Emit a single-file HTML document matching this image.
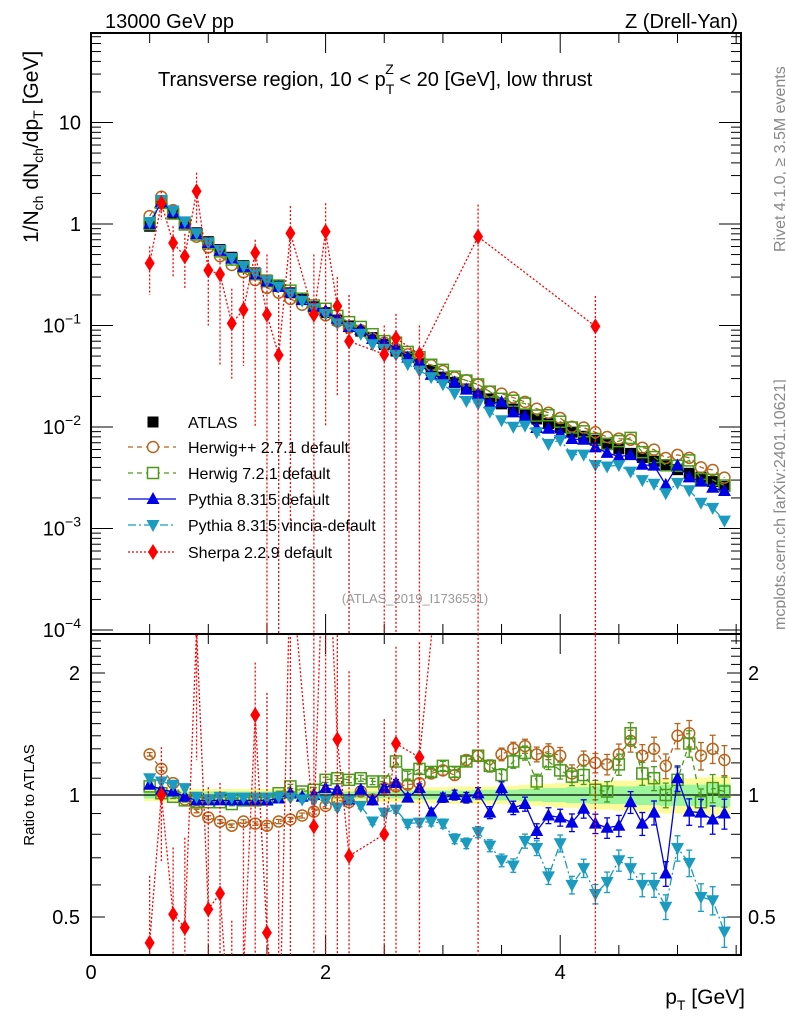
<!DOCTYPE html>
<html><head><meta charset="utf-8">
<style>
html,body{margin:0;padding:0;background:#fff;overflow:hidden;width:786px;height:1024px;}
svg{display:block;font-family:"Liberation Sans",Arial,sans-serif;}
</style></head>
<body>
<svg id="chart" width="786" height="1024" viewBox="0 0 786 1024" xmlns="http://www.w3.org/2000/svg">
<defs>
<clipPath id="clipMain"><rect x="91" y="33" width="650" height="601"/></clipPath>
<clipPath id="clipRatio"><rect x="91" y="635" width="650" height="320"/></clipPath>
</defs>
<g id="bands" clip-path="url(#clipRatio)"></g>
<g id="grid"></g>
<g id="mainMarks" clip-path="url(#clipMain)"></g>
<g id="ratioMarks" clip-path="url(#clipRatio)"></g>
<g id="labels">
<text x="105" y="28" font-size="20">13000 GeV pp</text>
<text x="738" y="28" font-size="20" text-anchor="end">Z (Drell-Yan)</text>
<text x="158" y="86" font-size="20">Transverse region, 10 &lt; p<tspan font-size="14" dy="8">T</tspan><tspan font-size="14" dx="-9" dy="-20">Z</tspan><tspan dy="12"> &lt; 20 [GeV], low thrust</tspan></text>
<text transform="translate(38,243) rotate(-90)" font-size="21">1/N<tspan font-size="14" dy="5">ch</tspan><tspan dy="-5"> dN</tspan><tspan font-size="14" dy="5">ch</tspan><tspan dy="-5">/dp</tspan><tspan font-size="14" dy="5">T</tspan><tspan dy="-5"> [GeV]</tspan></text>
<text transform="translate(34,795) rotate(-90)" font-size="15" text-anchor="middle">Ratio to ATLAS</text>
<text x="745" y="1004" font-size="21" text-anchor="end">p<tspan font-size="14" dy="6">T</tspan><tspan dy="-6"> [GeV]</tspan></text>
<text transform="translate(785,252) rotate(-90)" font-size="16" fill="#888">Rivet 4.1.0, ≥ 3.5M events</text>
<text transform="translate(785,630) rotate(-90)" font-size="16" fill="#888">mcplots.cern.ch [arXiv:2401.10621]</text>
<text x="415" y="603" font-size="13" fill="#999" text-anchor="middle">(ATLAS_2019_I1736531)</text>
</g>
<g id="legend"></g>
</svg>
<script>
// ---- data ----
const bins = [0.5,0.6,0.7,0.8,0.9,1.0,1.1,1.2,1.3,1.4,1.5,1.6,1.7,1.8,1.9,2.0,2.1,2.2,2.3,2.4,2.5,2.6,2.7,2.8,2.9,3.0,3.1,3.2,3.3,3.4,3.5,3.6,3.7,3.8,3.9,4.0,4.1,4.2,4.3,4.4,4.5,4.6,4.7,4.8,4.9,5.0,5.1,5.2,5.3,5.4];
const atlasVals = [0.95,1.6,1.28,1.02,0.82,0.67,0.56,0.47,0.39,0.33,0.28,0.245,0.21,0.18,0.153,0.134,0.113,0.099,0.088,0.076,0.065,0.056,0.049,0.042,0.036,0.031,0.0275,0.0237,0.021,0.0189,0.0169,0.015,0.0134,0.012,0.0108,0.0098,0.0089,0.0081,0.0074,0.0067,0.0061,0.0055,0.005,0.0046,0.0042,0.0038,0.0035,0.0032,0.0029,0.0026];
const herwigPPRatio = [1.26,1.16,1.07,0.975,0.913,0.88,0.86,0.84,0.86,0.85,0.84,0.86,0.87,0.89,0.91,0.94,0.97,0.96,1.02,0.975,1.04,1.05,1.06,1.07,1.13,1.15,1.12,1.22,1.25,1.18,1.26,1.30,1.32,1.26,1.28,1.25,1.13,1.22,1.2,1.19,1.26,1.36,1.25,1.3,1.18,1.40,1.42,1.25,1.3,1.22];
const herwig7Ratio = [1.05,1.01,0.99,0.97,0.96,0.96,0.96,0.95,0.97,0.97,0.975,1.01,1.05,1.02,1.03,1.09,1.1,1.09,1.1,1.08,1.08,1.21,1.12,1.16,1.14,1.18,1.14,1.21,1.25,1.18,1.12,1.21,1.27,1.08,1.21,1.15,1.11,1.12,1.03,1.02,1.19,1.42,1.13,1.1,1.0,1.09,1.34,0.96,1.04,1.02];
const pythiaRatio = [1.06,1.03,1.02,0.99,0.97,0.97,0.97,0.97,0.97,0.97,0.97,0.98,1.01,0.99,1.0,1.04,1.03,0.975,1.03,0.97,1.04,1.07,0.985,1.04,0.905,0.985,1.0,0.985,1.01,0.905,1.04,0.93,0.95,0.815,0.89,0.88,0.855,0.925,0.85,0.83,0.84,0.96,0.85,0.905,0.64,1.1,0.91,0.905,0.87,0.9];
const vinciaRatio = [1.1,1.08,1.06,1.04,0.99,0.975,0.99,0.985,0.985,0.985,0.985,0.99,0.985,0.975,0.97,0.97,0.93,0.97,0.94,0.86,0.905,0.92,0.85,0.855,0.86,0.85,0.78,0.76,0.81,0.75,0.69,0.67,0.77,0.74,0.63,0.76,0.6,0.66,0.57,0.61,0.69,0.66,0.6,0.6,0.53,0.74,0.68,0.56,0.55,0.46];
const mcErrRel = [0.01,0.01,0.01,0.01,0.01,0.01,0.01,0.01,0.01,0.01,0.012,0.012,0.012,0.014,0.014,0.015,0.015,0.016,0.017,0.018,0.02,0.02,0.022,0.024,0.025,0.026,0.028,0.03,0.032,0.034,0.036,0.038,0.04,0.042,0.045,0.048,0.05,0.052,0.055,0.058,0.06,0.062,0.065,0.068,0.07,0.072,0.075,0.078,0.08,0.085];
const bandStat = [0.02,0.02,0.02,0.02,0.02,0.02,0.02,0.02,0.02,0.02,0.02,0.02,0.02,0.02,0.02,0.02,0.02,0.02,0.02,0.02,0.02,0.02,0.025,0.025,0.025,0.025,0.025,0.025,0.03,0.03,0.03,0.03,0.035,0.035,0.04,0.04,0.045,0.045,0.05,0.05,0.05,0.05,0.055,0.055,0.06,0.06,0.06,0.06,0.065,0.065];
const bandTot = [0.035,0.035,0.035,0.035,0.035,0.035,0.035,0.035,0.035,0.035,0.035,0.035,0.035,0.035,0.035,0.035,0.035,0.035,0.04,0.04,0.04,0.04,0.045,0.045,0.045,0.045,0.05,0.05,0.05,0.05,0.05,0.055,0.06,0.06,0.065,0.07,0.07,0.075,0.08,0.08,0.085,0.085,0.09,0.09,0.1,0.1,0.1,0.105,0.11,0.11];
const sherpaBins = [0.5,0.6,0.7,0.8,0.9,1.0,1.1,1.2,1.3,1.4,1.5,1.6,1.7,1.9,2.0,2.1,2.2,2.5,2.6,2.8,3.3,4.3];
const sherpaVals = [0.41,1.6,0.65,0.48,2.1,0.35,0.32,0.105,0.143,0.52,0.128,0.051,0.81,0.128,0.84,0.155,0.07,0.052,0.075,0.052,0.75,0.098];
const sherpaHi = [0.6,2.1,0.95,0.8,3.2,0.7,0.6,0.23,0.33,0.7,0.5,0.2,1.5,0.5,1.6,0.3,0.2,0.1,0.13,0.1,1.55,0.195];
const sherpaLo = [0.2,1.1,0.3,0.23,1.0,0.1,0.04,0.03,0.04,0.01,0,0,0.001,0,0.01,0.02,0,0,0,0,0,0];

// ---- scales ----
const X = v => 91 + 117.3*v;
const YM = v => v<=0 ? 700 : 224 - 101.5*Math.log10(v);
const YR = r => r<=0 ? 1000 : 795 - 122*Math.log2(r);
const NS='http://www.w3.org/2000/svg';
function mk(parent, tag, attrs){const e=document.createElementNS(NS,tag);for(const k in attrs)e.setAttribute(k,attrs[k]);parent.appendChild(e);return e;}
const G=document.getElementById('grid'), MM=document.getElementById('mainMarks'), RM=document.getElementById('ratioMarks'), BD=document.getElementById('bands'), LG=document.getElementById('legend');

// ---- bands ----
function band(arr, color, name){
  let top='', bot='';
  bins.forEach((b,i)=>{const x0=X(b-0.05),x1=X(b+0.05);top+=`L${x0},${YR(1+arr[i])} L${x1},${YR(1+arr[i])} `;});
  for(let i=bins.length-1;i>=0;i--){const x0=X(bins[i]-0.05),x1=X(bins[i]+0.05);bot+=`L${x1},${YR(1-arr[i])} L${x0},${YR(1-arr[i])} `;}
  const p=mk(BD,'path',{d:'M'+top.slice(1)+bot+'Z',fill:color});
  
  
}
band(bandTot,'#fbfb9b','total-uncertainty-band');
band(bandStat,'#9cf59c','stat-uncertainty-band');

// ---- frames & ticks ----
function line(x1,y1,x2,y2,w){return mk(G,'line',{x1,y1,x2,y2,stroke:'#000','stroke-width':w||1});}
const fm=mk(G,'rect',{x:91,y:33,width:650,height:601,fill:'none',stroke:'#000','stroke-width':2});


const fr=mk(G,'rect',{x:91,y:634,width:650,height:321,fill:'none',stroke:'#000','stroke-width':2});


for(let v=0; v<=5.5; v+=0.5){
  const major = Math.abs(v%2)<1e-6;
  const L = major?20:10;
  const x=X(v);
  line(x,33,x,33+L); line(x,634,x,634-L); line(x,634,x,634+L); line(x,955,x,955-L);
}
const xTickLabels=['0','2','4'];
[0,2,4].forEach((v,i)=>{const t=mk(G,'text',{x:X(v),y:979,'font-size':20,'text-anchor':'middle'});t.textContent=xTickLabels[i];

});
for(let d=-4; d<=1; d++){
  for(let m=1;m<=9;m++){
    const v=m*Math.pow(10,d); const y=YM(v);
    if(y<33||y>634) continue;
    const L=m===1?22:10;
    line(91,y,91+L,y); line(741,y,741-L,y);
  }
}
const yTickExps=[1,0,-1,-2,-3,-4];
yTickExps.forEach(e=>{
  const y=YM(Math.pow(10,e))+7;
  const t=mk(G,'text',{x:81,y:y,'font-size':20,'text-anchor':'end'});
  
  
  if(e===1) t.textContent='10';
  else if(e===0) t.textContent='1';
  else { t.textContent='10'; const s=mk(t,'tspan',{'font-size':14,dy:-9}); s.textContent='−'+(-e); }
});
for(let r=0.5; r<=2.45; r+=0.1){
  const y=YR(r); const rr=Math.round(r*10)/10;
  const L=(rr===0.5||rr===1||rr===2)?14:10;
  line(91,y,91+L,y); line(741,y,741-L,y);
}
const ratioTickLabels=['0.5','1','2'];
[0.5,1,2].forEach((r,i)=>{
  const t=mk(G,'text',{x:80,y:YR(r)+7,'font-size':20,'text-anchor':'end'});t.textContent=ratioTickLabels[i];
  
  
  const t2=mk(G,'text',{x:748,y:YR(r)+7,'font-size':20});t2.textContent=ratioTickLabels[i];
  
  
});
const one=mk(RM,'line',{x1:91,y1:YR(1),x2:741,y2:YR(1),stroke:'#000','stroke-width':1.2});



// ---- markers ----
function marker(parent,type,x,y,color){
  let e;
  if(type==='sq') e=mk(parent,'rect',{x:x-5.5,y:y-5.5,width:11,height:11,fill:'#000'});
  else if(type==='circ') e=mk(parent,'circle',{cx:x,cy:y,r:5.5,fill:'none',stroke:color,'stroke-width':1.5});
  else if(type==='osq') e=mk(parent,'rect',{x:x-5.5,y:y-5.5,width:11,height:11,fill:'none',stroke:color,'stroke-width':1.5});
  else if(type==='up') e=mk(parent,'polygon',{points:`${x},${y-7} ${x-6.5},${y+5} ${x+6.5},${y+5}`,fill:color});
  else if(type==='down') e=mk(parent,'polygon',{points:`${x},${y+7} ${x-6.5},${y-5} ${x+6.5},${y-5}`,fill:color});
  else if(type==='dia') e=mk(parent,'polygon',{points:`${x},${y-8} ${x-5},${y} ${x},${y+8} ${x+5},${y}`,fill:color});
  return e;
}
const series=[
  {name:'herwigpp',ratio:herwigPPRatio,color:'#b5651d',type:'circ',dash:'5,4',label:'Herwig++ 2.7.1 default'},
  {name:'herwig7',ratio:herwig7Ratio,color:'#4a9a1a',type:'osq',dash:'5,4',label:'Herwig 7.2.1 default'},
  {name:'pythia',ratio:pythiaRatio,color:'#0000e6',type:'up',dash:'',label:'Pythia 8.315 default'},
  {name:'vincia',ratio:vinciaRatio,color:'#1a9bbf',type:'down',dash:'8,3,2,3',label:'Pythia 8.315 vincia-default'}
];
bins.forEach((b,i)=>{
  const m=marker(MM,'sq',X(b),YM(atlasVals[i]));
  
  
});
series.forEach(s=>{
  const gm=mk(MM,'g',{});  
  const gr=mk(RM,'g',{});  
  const mainPts=bins.map((b,i)=>`${X(b)},${YM(atlasVals[i]*s.ratio[i])}`).join(' ');
  const ratioPts=bins.map((b,i)=>`${X(b)},${YR(s.ratio[i])}`).join(' ');
  const pl1=mk(gm,'polyline',{points:mainPts,fill:'none',stroke:s.color,'stroke-width':1.3,'stroke-dasharray':s.dash});
  
  
  const pl2=mk(gr,'polyline',{points:ratioPts,fill:'none',stroke:s.color,'stroke-width':1.3,'stroke-dasharray':s.dash});
  
  
  bins.forEach((b,i)=>{
    const r=s.ratio[i], e=mcErrRel[i], x=X(b);
    const y1=YR(r*(1+e)), y2=YR(r*(1-e));
    mk(gr,'line',{x1:x,y1:y1,x2:x,y2:y2,stroke:s.color,'stroke-width':1.3});
    mk(gr,'line',{x1:x-3,y1:y1,x2:x+3,y2:y1,stroke:s.color,'stroke-width':1.3});
    mk(gr,'line',{x1:x-3,y1:y2,x2:x+3,y2:y2,stroke:s.color,'stroke-width':1.3});
    const m1=marker(gm,s.type,x,YM(atlasVals[i]*r),s.color);
    
    
    const m2=marker(gr,s.type,x,YR(r),s.color);
    
    
  });
});
(function(){
  const gm=mk(MM,'g',{});  
  const gr=mk(RM,'g',{});  
  const atl = b => atlasVals[bins.findIndex(v=>Math.abs(v-b)<1e-6)];
  const c='#ff0000';
  const pl1=mk(gm,'polyline',{points:sherpaBins.map((b,i)=>`${X(b)},${YM(sherpaVals[i])}`).join(' '),fill:'none',stroke:c,'stroke-width':1.3,'stroke-dasharray':'2,2'});
  
  
  const pl2=mk(gr,'polyline',{points:sherpaBins.map((b,i)=>`${X(b)},${YR(sherpaVals[i]/atl(b))}`).join(' '),fill:'none',stroke:c,'stroke-width':1.3,'stroke-dasharray':'2,2'});
  
  
  sherpaBins.forEach((b,i)=>{
    const x=X(b), a=atl(b);
    mk(gm,'line',{x1:x,y1:YM(sherpaHi[i]),x2:x,y2:YM(sherpaLo[i]),stroke:c,'stroke-width':1.3,'stroke-dasharray':'2,2'});
    mk(gr,'line',{x1:x,y1:YR(sherpaHi[i]/a),x2:x,y2:YR(sherpaLo[i]/a),stroke:c,'stroke-width':1.3,'stroke-dasharray':'2,2'});
    const m1=marker(gm,'dia',x,YM(sherpaVals[i]),c);
    
    
    const m2=marker(gr,'dia',x,YR(sherpaVals[i]/a),c);
    
    
  });
})();

// ---- legend ----
const legendRows=[
  {label:'ATLAS',type:'sq',color:'#000',dash:null,y:422},
  {label:series[0].label,type:'circ',color:series[0].color,dash:'5,4',y:447},
  {label:series[1].label,type:'osq',color:series[1].color,dash:'5,4',y:473},
  {label:series[2].label,type:'up',color:series[2].color,dash:'',y:499},
  {label:series[3].label,type:'down',color:series[3].color,dash:'8,3,2,3',y:525},
  {label:'Sherpa 2.2.9 default',type:'dia',color:'#ff0000',dash:'2,2',y:552}
];
legendRows.forEach(r=>{
  const g=mk(LG,'g',{});
  
  
  if(r.dash!==null) mk(g,'line',{x1:128,y1:r.y,x2:176,y2:r.y,stroke:r.color,'stroke-width':1.3,'stroke-dasharray':r.dash});
  if(r.type==='circ'||r.type==='osq') mk(g,'rect',{x:147,y:r.y-6,width:12,height:12,fill:'#fff'});
  marker(g,r.type,153,r.y,r.color);
  const t=mk(g,'text',{x:188,y:r.y+6,'font-size':16});
  t.textContent=r.label;
});
</script>
</body></html>
